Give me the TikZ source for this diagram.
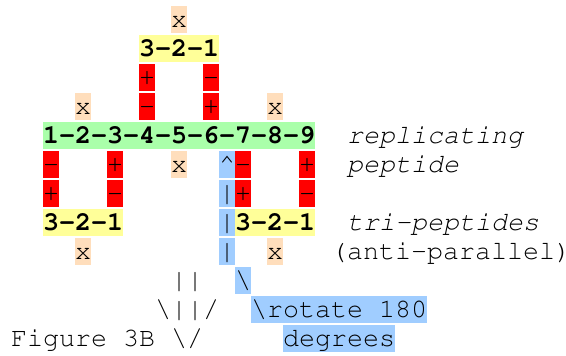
\documentclass[tikz,border=0pt]{standalone}
\newcommand{\cour}{\fontencoding{T1}\fontfamily{pcr}\selectfont}
\newcommand{\charsize}{\fontsize{26.67pt}{29pt}\selectfont}
\definecolor{hlred}{RGB}{255,0,0}
\definecolor{hlpeach}{RGB}{255,222,188}
\definecolor{hlyellow}{RGB}{255,255,153}
\definecolor{hlgreen}{RGB}{170,255,170}
\definecolor{hlblue}{RGB}{160,205,255}
\tikzset{
  cell/.style={anchor=north west, inner sep=0pt, text height=21.5pt, text depth=5.5pt, font=\cour\charsize},
  sgn/.style={cell, fill=hlred},
  xmark/.style={cell, fill=hlpeach},
  tri/.style={cell, fill=hlyellow, font=\cour\charsize\bfseries},
  rep/.style={cell, fill=hlgreen, font=\cour\charsize\bfseries},
  rot/.style={cell, fill=hlblue},
  note/.style={cell, font=\cour\charsize\itshape}
}
\begin{document}
\begin{tikzpicture}[x=16pt, y=-29pt]
\useasboundingbox (-0.6875,-0.2069) rectangle (34.6875,12.069);

% replicating peptide and the three tri-peptides
\node[rep] (rep) at (2,4) {1-2-3-4-5-6-7-8-9};
\node[tri] (tri-top) at (8,1) {3-2-1};
\node[tri] (tri-left) at (2,7) {3-2-1};
\node[tri] (tri-right) at (14,7) {3-2-1};

% charges and blocked positions
\foreach \c/\r in {8/2, 12/3, 6/5, 18/5, 2/6, 14/6}
    \node[sgn] (plus-\c-\r) at (\c,\r) {+};
\foreach \c/\r in {12/2, 8/3, 2/5, 14/5, 6/6, 18/6}
    \node[sgn] (minus-\c-\r) at (\c,\r) {-};
\foreach \c/\r in {10/0, 4/3, 16/3, 10/5, 4/8, 16/8}
    \node[xmark] (x-\c-\r) at (\c,\r) {x};

% rotation marker
\node[rot] (caret) at (13,5) {\textasciicircum};
\foreach \r in {6,7,8}
    \node[rot] (bar-\r) at (13,\r) {\textbar};
\node[rot] (slash) at (14,9) {\textbackslash};
\node[rot] (rotate) at (15,10) {\textbackslash rotate 180};
\node[rot] (degrees) at (17,11) {degrees};

% labels
\node[note] (lbl-rep) at (21,4) {replicating};
\node[note] (lbl-pep) at (21,5) {peptide};
\node[note] (lbl-tri) at (21,7) {tri-peptides};
\node[cell] (lbl-anti) at (20,8) {(anti-parallel)};

% ascii arrow
\node[cell] (arrow-a) at (10,9) {\textbar\textbar};
\node[cell] (arrow-b) at (9,10) {\textbackslash\textbar\textbar/};
\node[cell] (fig) at (0,11) {Figure 3B \textbackslash/};
%
\end{tikzpicture}
\end{document}
